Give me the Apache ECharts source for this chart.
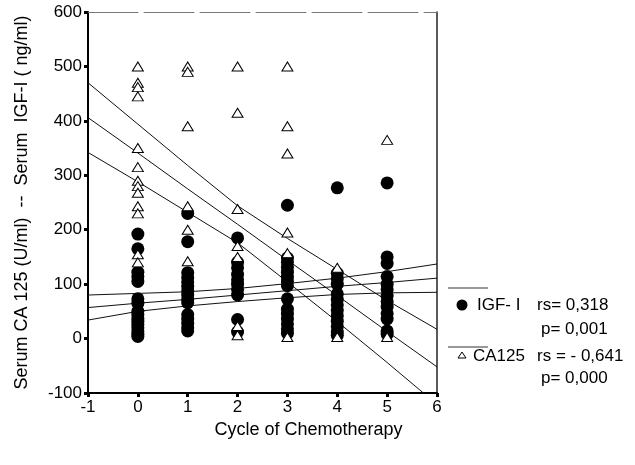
<!DOCTYPE html>
<html>
<head>
<meta charset="utf-8">
<script src="https://cdn.jsdelivr.net/npm/echarts@6/dist/echarts.min.js"></script>
<style>
  html, body { margin: 0; padding: 0; background: #fff; }
  #chart { width: 635px; height: 465px; }
</style>
</head>
<body>
<div id="chart"></div>
<script>
// cycles of chemotherapy
const cycles = [0, 1, 2, 3, 4, 5];

// serum IGF-I (ng/ml) per cycle
const igfValues = [
  [192, 165, 122, 114, 105, 73, 65, 50, 44, 38, 32, 26, 20, 14, 8, 4],
  [230, 178, 121, 112, 104, 96, 88, 80, 72, 66, 44, 36, 28, 20, 14],
  [185, 140, 130, 118, 108, 100, 90, 80, 35, 12],
  [245, 148, 140, 131, 122, 113, 105, 97, 73, 54, 45, 36, 27, 18, 10],
  [277, 120, 110, 100, 82, 72, 62, 52, 42, 32, 22, 12, 6],
  [286, 150, 138, 114, 100, 90, 78, 68, 58, 46, 36, 14, 8],
];

// serum CA 125 (U/ml) per cycle
const caValues = [
  [500, 470, 462, 445, 350, 315, 290, 280, 268, 243, 230, 155, 140],
  [500, 490, 390, 243, 200, 142],
  [500, 415, 238, 170, 150, 23, 6],
  [500, 390, 340, 195, 157, 3],
  [130, 3],
  [365, 3],
];

// regression lines with 95% bands, read at x = -1 .. 6
const lineX = [-1, 0, 1, 2, 3, 4, 5, 6];
const igfFit = [57, 65, 72, 80, 88, 96, 103, 111];
const igfUpper = [80, 83, 86, 92, 101, 111, 123, 137];
const igfLower = [34, 50, 60, 68, 75, 81, 84, 85];
const caFit = [406, 341, 275, 210, 144, 79, 13, -52];
const caUpper = [470, 394, 318, 244, 184, 127, 70, 17];
const caLower = [342, 288, 232, 176, 104, 31, -44, -121];

// axis ticks
const xTicks = [-1, 0, 1, 2, 3, 4, 5, 6];
const yTicks = [-100, 0, 100, 200, 300, 400, 500, 600];

const toPoints = (groups) => {
  const out = [];
  groups.forEach((vals, i) => {
    vals.forEach((v) => out.push([cycles[i], v]));
  });
  return out;
};

const toLine = (ys) => lineX.map((x, i) => [x, ys[i]]);

const FONT = "'Liberation Sans', Arial, sans-serif";
const LEGEND_FONT = "17px " + FONT;

const lineSeries = (ys) => ({
  type: "line",
  data: toLine(ys),
  symbol: "none",
  silent: true,
  z: 2,
  lineStyle: { color: "#111", width: 1 },
});

const chart = echarts.init(document.getElementById("chart"));

chart.setOption({
  animation: false,
  backgroundColor: "#fff",
  grid: { left: 88, right: 198, top: 12, bottom: 72 },
  xAxis: [
    {
      type: "value",
      min: xTicks[0],
      max: xTicks[xTicks.length - 1],
      interval: 1,
      axisLine: { onZero: false, lineStyle: { color: "#000", width: 2 } },
      axisTick: { length: 4, lineStyle: { color: "#000", width: 3 } },
      axisLabel: { color: "#000", fontFamily: FONT, fontSize: 17, margin: 6 },
      splitLine: { show: false },
      name: "Cycle of Chemotherapy",
      nameLocation: "middle",
      nameGap: 26,
      nameTextStyle: { color: "#000", fontFamily: FONT, fontSize: 18, padding: [0, 0, 0, 92] },
    },
    {
      type: "value",
      position: "top",
      min: xTicks[0],
      max: xTicks[xTicks.length - 1],
      axisLine: { show: true, onZero: false, lineStyle: { color: "#777", width: 1, type: [50, 6] } },
      axisTick: { show: false },
      axisLabel: { show: false },
      splitLine: { show: false },
    },
  ],
  yAxis: [
    {
      type: "value",
      min: yTicks[0],
      max: yTicks[yTicks.length - 1],
      interval: 100,
      axisLine: { show: true, onZero: false, lineStyle: { color: "#000", width: 2 } },
      axisTick: { show: true, length: 4, lineStyle: { color: "#000", width: 3 } },
      axisLabel: { color: "#000", fontFamily: FONT, fontSize: 17, margin: 6 },
      splitLine: { show: false },
      name: "Serum CA 125 (U/ml)  --  Serum  IGF-I ( ng/ml)",
      nameLocation: "middle",
      nameGap: 57,
      nameTextStyle: { color: "#000", fontFamily: FONT, fontSize: 18 },
    },
    {
      type: "value",
      position: "right",
      min: yTicks[0],
      max: yTicks[yTicks.length - 1],
      axisLine: { show: true, onZero: false, lineStyle: { color: "#222", width: 1.5 } },
      axisTick: { show: false },
      axisLabel: { show: false },
      splitLine: { show: false },
    },
  ],
  series: [
    lineSeries(igfFit),
    lineSeries(igfUpper),
    lineSeries(igfLower),
    lineSeries(caFit),
    lineSeries(caUpper),
    lineSeries(caLower),
    {
      name: "IGF-I",
      type: "scatter",
      data: toPoints(igfValues),
      symbol: "circle",
      symbolSize: 13,
      z: 3,
      itemStyle: { color: "#000", opacity: 1 },
    },
    {
      name: "CA125",
      type: "scatter",
      data: toPoints(caValues),
      symbol: "triangle",
      symbolSize: [11, 9],
      z: 4,
      itemStyle: { color: "#fff", borderColor: "#000", borderWidth: 1, opacity: 1 },
    },
  ],
  graphic: [
    { type: "line", shape: { x1: 448, y1: 288, x2: 488, y2: 288 }, style: { stroke: "#333", lineWidth: 1 } },
    { type: "circle", shape: { cx: 462, cy: 305, r: 5.5 }, style: { fill: "#000" } },
    { type: "text", left: 477, top: 297, style: { text: "IGF- I", font: LEGEND_FONT, fill: "#000" } },
    { type: "text", left: 537, top: 297, style: { text: "rs= 0,318", font: LEGEND_FONT, fill: "#000" } },
    { type: "text", left: 541, top: 321, style: { text: "p= 0,001", font: LEGEND_FONT, fill: "#000" } },
    { type: "line", shape: { x1: 448, y1: 347, x2: 488, y2: 347 }, style: { stroke: "#333", lineWidth: 1 } },
    { type: "polygon", shape: { points: [[458, 358], [462, 352], [466, 358]] }, style: { fill: "#fff", stroke: "#000", lineWidth: 1 } },
    { type: "text", left: 473, top: 348, style: { text: "CA125", font: LEGEND_FONT, fill: "#000" } },
    { type: "text", left: 537, top: 348, style: { text: "rs = - 0,641", font: LEGEND_FONT, fill: "#000" } },
    { type: "text", left: 541, top: 370, style: { text: "p= 0,000", font: LEGEND_FONT, fill: "#000" } },
  ],
});
</script>
</body>
</html>
